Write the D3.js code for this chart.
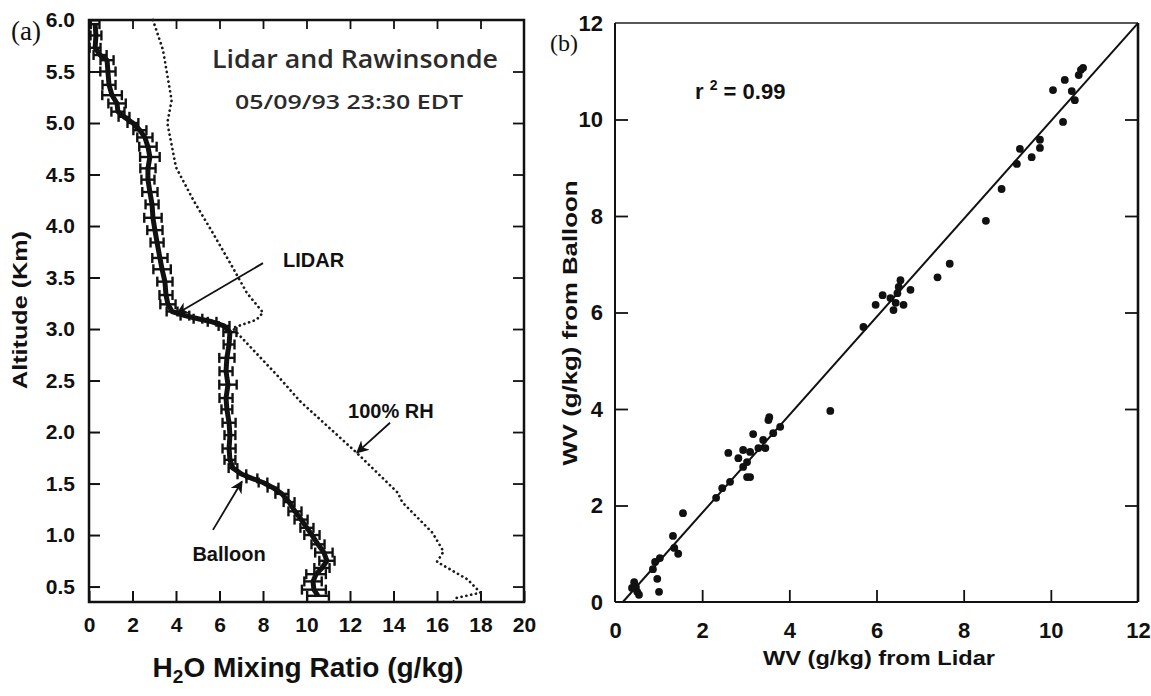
<!DOCTYPE html>
<html><head><meta charset="utf-8">
<script src="https://cdn.jsdelivr.net/npm/d3@7"></script>
<style>
body{margin:0;background:#fff;}
svg{display:block;}
text{font-family:"Liberation Sans",Arial,Helvetica,sans-serif;}
</style></head>
<body><svg id="c" width="1151" height="696"></svg>
<script>
// ---------- Panel (a) data ----------
// Lidar profile: altitude (km), mixing ratio (g/kg), error half-width (g/kg)
const lidarAlt = [5.96,5.85,5.73,5.66,5.61,5.50,5.37,5.27,5.19,5.11,5.06,5.00,4.93,4.86,4.77,4.67,4.56,4.45,4.33,4.21,4.08,3.96,3.84,3.69,3.58,3.46,3.33,3.24,3.17,3.13,3.10,3.07,3.03,2.97,2.85,2.72,2.59,2.46,2.33,2.22,2.09,1.97,1.84,1.73,1.65,1.59,1.55,1.51,1.46,1.40,1.32,1.23,1.15,1.07,1.00,0.91,0.83,0.75,0.68,0.62,0.55,0.47,0.41];
const lidarWV  = [0.28,0.32,0.28,0.51,0.83,0.87,0.92,1.06,1.29,1.33,1.61,2.02,2.34,2.57,2.71,2.80,2.71,2.71,2.80,2.90,2.94,3.03,3.13,3.26,3.36,3.49,3.54,3.63,3.82,4.41,5.01,5.66,6.21,6.48,6.44,6.34,6.30,6.39,6.30,6.34,6.44,6.48,6.44,6.48,6.62,7.03,7.49,8.00,8.46,8.87,9.20,9.47,9.75,10.02,10.25,10.53,10.80,10.94,10.71,10.44,10.30,10.34,10.53];
const lidarErr = [0.20,0.25,0.25,0.30,0.30,0.35,0.30,0.45,0.40,0.30,0.25,0.25,0.30,0.35,0.40,0.45,0.35,0.30,0.35,0.30,0.40,0.35,0.30,0.35,0.40,0.35,0.30,0.35,0.25,0.20,0.20,0.20,0.25,0.30,0.25,0.35,0.30,0.40,0.30,0.25,0.30,0.25,0.30,0.25,0.20,0.20,0.25,0.20,0.25,0.30,0.25,0.30,0.30,0.30,0.35,0.30,0.40,0.35,0.35,0.45,0.40,0.55,0.50];
// 100% RH (saturation) curve
const rhAlt = [6.00,5.71,5.22,5.00,4.57,4.25,3.93,3.60,3.35,3.16,3.09,3.01,2.54,2.30,1.80,1.41,1.32,1.02,0.84,0.74,0.57,0.44,0.39,0.35];
const rhWV  = [2.94,3.40,3.80,3.60,4.00,4.80,5.70,6.60,7.26,8.00,7.70,6.60,8.70,9.70,12.30,14.20,14.40,15.80,16.30,16.00,17.40,18.00,16.90,16.75];
const aXTicks = [0,2,4,6,8,10,12,14,16,18,20];
const aYTicks = [0.5,1.0,1.5,2.0,2.5,3.0,3.5,4.0,4.5,5.0,5.5,6.0];

// ---------- Panel (b) data ----------
const lidarB   = [10.69,10.74,10.64,10.32,10.05,10.48,10.55,10.28,9.29,9.75,9.75,9.56,9.22,8.87,8.51,7.68,7.40,6.55,6.51,6.14,5.98,6.32,6.44,6.62,6.39,6.78,6.48,5.70,4.94,3.54,3.52,3.79,3.63,3.17,3.40,3.45,3.29,2.94,3.10,2.60,2.83,3.03,2.94,3.03,3.10,2.64,2.46,2.32,1.56,1.33,1.36,1.45,1.03,0.92,0.87,0.97,1.01,0.44,0.48,0.51,0.55,0.39];
const balloonB = [11.03,11.07,10.92,10.82,10.61,10.59,10.40,9.95,9.39,9.58,9.41,9.22,9.08,8.56,7.90,7.01,6.73,6.67,6.53,6.36,6.16,6.30,6.20,6.16,6.05,6.47,6.40,5.70,3.96,3.83,3.77,3.63,3.50,3.48,3.36,3.19,3.19,3.15,3.11,3.09,2.98,2.90,2.80,2.59,2.59,2.49,2.36,2.16,1.84,1.37,1.12,1.00,0.91,0.83,0.68,0.48,0.21,0.41,0.31,0.21,0.15,0.29];
const fitSlope = 1.015, fitIntercept = -0.183, fitXStart = 0.18, fitXEnd = 12;
const bTicks = [0,2,4,6,8,10,12];

const svg = d3.select("#c");

// ================= Panel (a) =================
const ax = d3.scaleLinear().domain([0,20]).range([89,524]);
const ay = d3.scaleLinear().domain([0.35,6.0]).range([602,20]);

const gA = svg.append("g");
gA.append("g").attr("transform",`translate(0,${ay(0.35)})`)
  .call(d3.axisBottom(ax).tickValues(aXTicks).tickSizeInner(-11).tickSizeOuter(0).tickPadding(15).tickFormat(d3.format("d")))
  .call(g=>{g.select(".domain").remove();g.selectAll("line").attr("stroke","#111").attr("stroke-width",2);
     g.selectAll("text").attr("font-size",21).attr("font-weight","bold").attr("fill","#111");});
gA.append("g").attr("transform",`translate(${ax(0)},0)`)
  .call(d3.axisLeft(ay).tickValues(aYTicks).tickSizeInner(-11).tickSizeOuter(0).tickPadding(14).tickFormat(d3.format(".1f")))
  .call(g=>{g.select(".domain").remove();g.selectAll("line").attr("stroke","#111").attr("stroke-width",2);
     g.selectAll("text").attr("font-size",21).attr("font-weight","bold").attr("fill","#111");});
gA.append("g").attr("transform",`translate(0,${ay(6.0)})`)
  .call(d3.axisTop(ax).tickValues(aXTicks.slice(1,-1)).tickSizeInner(-9).tickSizeOuter(0).tickFormat(""))
  .call(g=>{g.select(".domain").remove();g.selectAll("line").attr("stroke","#111").attr("stroke-width",1.8);});
gA.append("g").attr("transform",`translate(${ax(20)},0)`)
  .call(d3.axisRight(ay).tickValues(aYTicks.slice(0,-1)).tickSizeInner(-11).tickSizeOuter(0).tickFormat(""))
  .call(g=>{g.select(".domain").remove();g.selectAll("line").attr("stroke","#111").attr("stroke-width",1.8);});
gA.append("rect").attr("x",ax(0)).attr("y",ay(6.0)).attr("width",ax(20)-ax(0)).attr("height",ay(0.35)-ay(6.0))
  .attr("fill","none").attr("stroke","#111").attr("stroke-width",2.5);

// RH dotted curve
const rhData = rhAlt.map((a,i)=>({alt:a,v:rhWV[i]}));
gA.append("path").datum(rhData)
  .attr("d",d3.line().x(d=>ax(d.v)).y(d=>ay(d.alt)))
  .attr("fill","none").attr("stroke","#1a1a1a").attr("stroke-width",2.7)
  .attr("stroke-dasharray","0.1 4.8").attr("stroke-linecap","round");

// Lidar profile with error bars
const lidarData = lidarAlt.map((a,i)=>({alt:a,v:lidarWV[i],e:lidarErr[i]}));
gA.append("path").datum(lidarData)
  .attr("d",d3.line().x(d=>ax(d.v)).y(d=>ay(d.alt)))
  .attr("fill","none").attr("stroke","#111").attr("stroke-width",5).attr("stroke-linejoin","round");
const eb = gA.append("g").attr("stroke","#111").attr("stroke-width",2.4);
eb.selectAll("line.h").data(lidarData).join("line").attr("class","h")
  .attr("x1",d=>ax(d.v-d.e)).attr("x2",d=>ax(d.v+d.e)).attr("y1",d=>ay(d.alt)).attr("y2",d=>ay(d.alt));
eb.selectAll("line.l").data(lidarData).join("line").attr("class","l")
  .attr("x1",d=>ax(d.v-d.e)).attr("x2",d=>ax(d.v-d.e)).attr("y1",d=>ay(d.alt)-5).attr("y2",d=>ay(d.alt)+5);
eb.selectAll("line.r").data(lidarData).join("line").attr("class","r")
  .attr("x1",d=>ax(d.v+d.e)).attr("x2",d=>ax(d.v+d.e)).attr("y1",d=>ay(d.alt)-5).attr("y2",d=>ay(d.alt)+5);

// arrow marker
const defs = svg.append("defs");
defs.append("marker").attr("id","arr").attr("viewBox","0 0 10 10").attr("refX",9).attr("refY",5)
  .attr("markerWidth",7).attr("markerHeight",7).attr("orient","auto")
  .append("path").attr("d","M0,0 L10,5 L0,10 L3,5 Z").attr("fill","#111");

// annotations (data coords)
const annot = [
  {text:"LIDAR",  tx:8.92, ta:3.60, anchor:"start",  x1:8.0,  a1:3.64, x2:4.05,  a2:3.15},
  {text:"Balloon",tx:6.44, ta:0.75, anchor:"middle", x1:5.70, a1:1.05, x2:7.03,  a2:1.52},
  {text:"100% RH",tx:11.91,ta:2.14, anchor:"start",  x1:13.84,a1:2.09, x2:12.32, a2:1.80}
];
annot.forEach(d=>{
  gA.append("line").attr("x1",ax(d.x1)).attr("y1",ay(d.a1)).attr("x2",ax(d.x2)).attr("y2",ay(d.a2))
    .attr("stroke","#111").attr("stroke-width",1.8).attr("marker-end","url(#arr)");
  gA.append("text").attr("x",ax(d.tx)).attr("y",ay(d.ta)).attr("text-anchor",d.anchor)
    .attr("font-size",20).attr("font-weight","bold").attr("fill","#111").text(d.text);
});

// title in panel a
gA.append("text").attr("x",355).attr("y",68).attr("text-anchor","middle")
  .style("font-family","'Open Sans', Lato, sans-serif").attr("font-size",25).attr("font-weight",600).attr("fill","#2b2b2b")
  .attr("textLength",286).attr("lengthAdjust","spacingAndGlyphs")
  .text("Lidar and Rawinsonde");
gA.append("text").attr("x",349).attr("y",109).attr("text-anchor","middle")
  .style("font-family","'Open Sans', Lato, sans-serif").attr("font-size",20).attr("font-weight",600).attr("fill","#2b2b2b")
  .attr("textLength",228).attr("lengthAdjust","spacingAndGlyphs")
  .text("05/09/93 23:30 EDT");

// axis titles panel a
gA.append("text").attr("transform","translate(27,310) rotate(-90)").attr("text-anchor","middle")
  .attr("font-size",21).attr("font-weight","bold").attr("fill","#111")
  .attr("textLength",158).attr("lengthAdjust","spacingAndGlyphs").text("Altitude (Km)");
const xt = gA.append("text").attr("x",308).attr("y",677).attr("text-anchor","middle")
  .attr("font-size",28).attr("font-weight","bold").attr("fill","#111");
xt.append("tspan").text("H");
xt.append("tspan").attr("font-size",19).attr("dy",6).text("2");
xt.append("tspan").attr("dy",-6).text("O Mixing Ratio (g/kg)");

svg.append("text").attr("x",11).attr("y",40).style("font-family","'Liberation Serif','Times New Roman',serif")
  .attr("font-size",27).attr("fill","#111").text("(a)");

// ================= Panel (b) =================
const bx = d3.scaleLinear().domain([0,12]).range([615,1138]);
const by = d3.scaleLinear().domain([0,12]).range([602,23]);
const gB = svg.append("g");
gB.append("g").attr("transform",`translate(0,${by(0)})`)
  .call(d3.axisBottom(bx).tickValues(bTicks).tickSizeInner(-12).tickSizeOuter(0).tickPadding(20))
  .call(g=>{g.select(".domain").remove();g.selectAll("line").attr("stroke","#111").attr("stroke-width",1.8);
     g.selectAll(".tick").filter(d=>d===0||d===12).select("line").remove();
     g.selectAll("text").attr("font-size",22).attr("font-weight","bold").attr("fill","#111");});
gB.append("g").attr("transform",`translate(${bx(0)},0)`)
  .call(d3.axisLeft(by).tickValues(bTicks).tickSizeInner(-13).tickSizeOuter(0).tickPadding(12))
  .call(g=>{g.select(".domain").remove();g.selectAll("line").attr("stroke","#111").attr("stroke-width",1.8);
     g.selectAll(".tick").filter(d=>d===0||d===12).select("line").remove();
     g.selectAll("text").attr("font-size",22).attr("font-weight","bold").attr("fill","#111");});
gB.append("g").attr("transform",`translate(${bx(12)},0)`)
  .call(d3.axisRight(by).tickValues(bTicks.slice(1,-1)).tickSizeInner(-13).tickSizeOuter(0).tickFormat(""))
  .call(g=>{g.select(".domain").remove();g.selectAll("line").attr("stroke","#111").attr("stroke-width",1.8);});
gB.append("line").attr("x1",bx(0)).attr("x2",bx(12)).attr("y1",by(12)).attr("y2",by(12)).attr("stroke","#222").attr("stroke-width",1.6);
gB.append("line").attr("x1",bx(0)).attr("x2",bx(12)).attr("y1",by(0)).attr("y2",by(0)).attr("stroke","#111").attr("stroke-width",2);
gB.append("line").attr("x1",bx(0)).attr("x2",bx(0)).attr("y1",by(0)).attr("y2",by(12)).attr("stroke","#111").attr("stroke-width",2);
gB.append("line").attr("x1",bx(12)).attr("x2",bx(12)).attr("y1",by(0)).attr("y2",by(12)).attr("stroke","#111").attr("stroke-width",2.6);

// fit line
gB.append("line").attr("x1",bx(fitXStart)).attr("y1",by(fitSlope*fitXStart+fitIntercept))
  .attr("x2",bx(fitXEnd)).attr("y2",by(fitSlope*fitXEnd+fitIntercept))
  .attr("stroke","#111").attr("stroke-width",2);
// points
gB.selectAll("circle").data(lidarB.map((v,i)=>({x:v,y:balloonB[i]}))).join("circle")
  .attr("cx",d=>bx(d.x)).attr("cy",d=>by(d.y)).attr("r",3.9).attr("fill","#111");

// r^2 label
const rt = gB.append("text").attr("x",695).attr("y",99).attr("font-size",22).attr("font-weight","bold").attr("fill","#111");
rt.append("tspan").text("r ");
rt.append("tspan").attr("font-size",14).attr("dy",-9).text("2");
rt.append("tspan").attr("dy",9).text(" = 0.99");

gB.append("text").attr("x",879).attr("y",665).attr("text-anchor","middle")
  .attr("font-size",21).attr("font-weight","bold").attr("fill","#111")
  .attr("textLength",232).attr("lengthAdjust","spacingAndGlyphs").text("WV (g/kg) from Lidar");
gB.append("text").attr("transform","translate(577,323) rotate(-90)").attr("text-anchor","middle")
  .attr("font-size",21).attr("font-weight","bold").attr("fill","#111")
  .attr("textLength",285).attr("lengthAdjust","spacingAndGlyphs").text("WV (g/kg) from Balloon");

svg.append("text").attr("x",550).attr("y",51).style("font-family","'Liberation Serif','Times New Roman',serif")
  .attr("font-size",24).attr("fill","#111").text("(b)");
</script></body></html>
